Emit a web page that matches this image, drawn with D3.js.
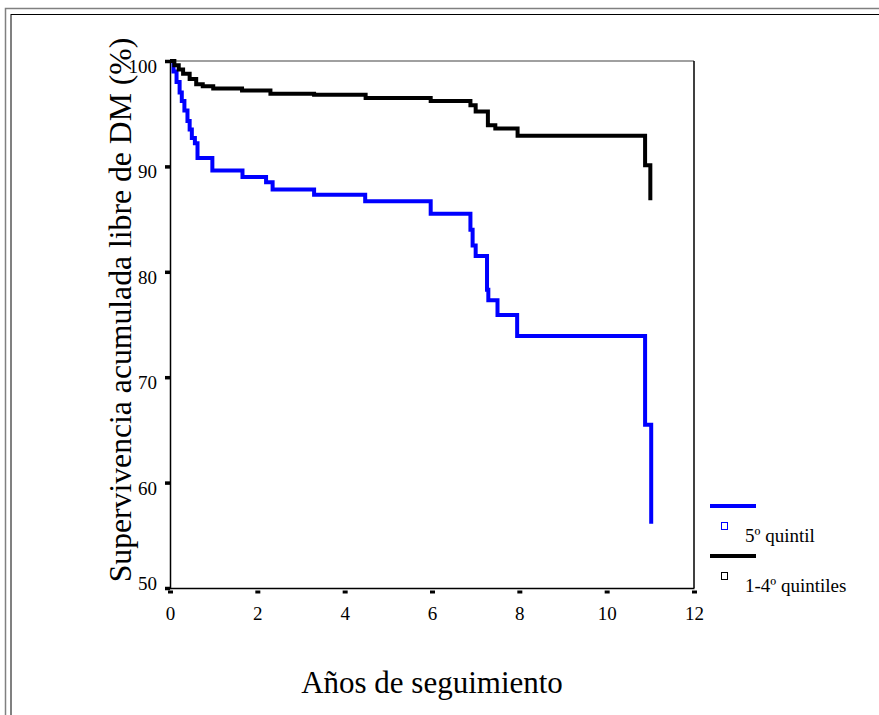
<!DOCTYPE html>
<html>
<head>
<meta charset="utf-8">
<script src="https://cdn.jsdelivr.net/npm/d3@7"></script>
<style>
  body { margin: 0; background: #fff; }
  text { font-family: "Liberation Serif", "Times New Roman", serif; fill: #000; }
</style>
</head>
<body>
<svg id="chart"></svg>
<script>
const width = 879;
const height = 715;
const plot = { left: 170, right: 694, top: 61, bottom: 588 };

// Kaplan-Meier estimates (years, % free of DM)
const quintil5Times = [0, 0.08, 0.15, 0.22, 0.27, 0.33, 0.4, 0.45, 0.5, 0.57, 0.63, 0.97, 1.66, 2.2, 2.35, 3.3, 4.47, 5.97, 6.88, 6.93, 7.0, 7.26, 7.29, 7.5, 7.95, 10.88, 11.02];
const quintil5Surv  = [100, 99.0, 98.0, 97.0, 96.2, 95.3, 94.3, 93.5, 92.7, 92.2, 90.8, 89.6, 89.0, 88.5, 87.8, 87.3, 86.7, 85.5, 84.0, 82.5, 81.5, 78.3, 77.3, 75.9, 73.9, 65.5, 56.1];
const quintil14Times = [0, 0.1, 0.2, 0.3, 0.45, 0.6, 0.75, 0.99, 1.65, 2.3, 3.3, 4.48, 5.97, 6.88, 7.0, 7.28, 7.45, 7.96, 10.88, 11.0];
const quintil14Surv  = [100, 99.6, 99.2, 98.8, 98.3, 97.8, 97.6, 97.4, 97.2, 96.9, 96.8, 96.5, 96.2, 95.8, 95.2, 93.9, 93.6, 92.9, 90.1, 86.8];

const xTicks = [0, 2, 4, 6, 8, 10, 12];
const yTicks = [50, 60, 70, 80, 90, 100];
const seriesNames = ["5º quintil", "1-4º quintiles"];
const seriesColors = ["#0000ff", "#000000"];

const svg = d3.select('svg#chart').attr('width', width).attr('height', height);

// double frame around the whole figure
svg.append('path').attr('d', 'M5.5,' + height + 'V8.5H' + width)
    .attr('fill', 'none').attr('stroke', '#808080').attr('stroke-width', 1.5);
svg.append('path').attr('d', 'M11,' + height + 'V14')
    .attr('fill', 'none').attr('stroke', '#808080').attr('stroke-width', 2);
svg.append('path').attr('d', 'M11,14.5H' + width)
    .attr('fill', 'none').attr('stroke', '#000').attr('stroke-width', 1.2);

const x = d3.scaleLinear().domain([0, 12]).range([plot.left, plot.right]);
const y = d3.scaleLinear().domain([50, 100]).range([plot.bottom, plot.top]);

// plot box: gray top, black right
svg.append('line').attr('x1', plot.left).attr('x2', plot.right).attr('y1', plot.top).attr('y2', plot.top)
    .attr('stroke', '#808080').attr('stroke-width', 1.5);
svg.append('line').attr('x1', plot.right).attr('x2', plot.right).attr('y1', plot.top).attr('y2', plot.bottom)
    .attr('stroke', '#000').attr('stroke-width', 1.5);

// y axis
const yAxis = svg.append('g').attr('transform', 'translate(' + plot.left + ',0)')
    .call(d3.axisLeft(y).tickValues(yTicks).tickSize(5).tickPadding(8).tickFormat(d3.format('d')));
yAxis.select('.domain').attr('stroke', '#000').attr('stroke-width', 1.5);
yAxis.selectAll('.tick line').attr('stroke', '#000').attr('stroke-width', 3.5);
yAxis.selectAll('.tick text').attr('font-size', 19)
    .attr('dy', d => d === 50 ? '0.06em' : '0.6em')
    .attr('font-family', '"Liberation Serif", serif');

// x axis
const xAxis = svg.append('g').attr('transform', 'translate(0,' + plot.bottom + ')')
    .call(d3.axisBottom(x).tickValues(xTicks).tickSize(0).tickPadding(19).tickFormat(d3.format('d')));
xAxis.select('.domain').attr('stroke', '#000').attr('stroke-width', 1.5);
xAxis.selectAll('.tick line').attr('stroke', '#000').attr('stroke-width', 3)
    .attr('x1', -2.5).attr('x2', 2.5).attr('y1', 4).attr('y2', 4);
xAxis.selectAll('.tick text').attr('font-size', 19).attr('font-family', '"Liberation Serif", serif');

// survival curves
const line = d3.line().curve(d3.curveStepAfter).x(d => x(d[0])).y(d => y(d[1]));
const series = [
    d3.zip(quintil5Times, quintil5Surv),
    d3.zip(quintil14Times, quintil14Surv)
];
series.forEach((pts, i) => {
    svg.append('path').datum(pts)
        .attr('d', line)
        .attr('fill', 'none')
        .attr('stroke', seriesColors[i])
        .attr('stroke-width', 4)
        .attr('stroke-linejoin', 'miter');
});

// axis titles
svg.append('text').attr('transform', 'translate(131,310) rotate(-90)')
    .attr('text-anchor', 'middle').attr('font-size', 31.7)
    .text('Supervivencia acumulada libre de DM (%)');
svg.append('text').attr('x', (plot.left + plot.right) / 2).attr('y', 693)
    .attr('text-anchor', 'middle').attr('font-size', 31)
    .text('Años de seguimiento');

// legend
const legend = svg.append('g').attr('transform', 'translate(710,506)');
seriesNames.forEach((name, i) => {
    const g = legend.append('g').attr('transform', 'translate(0,' + i * 50 + ')');
    g.append('line').attr('x1', 0).attr('x2', 46).attr('y1', 0).attr('y2', 0)
        .attr('stroke', seriesColors[i]).attr('stroke-width', 4);
    g.append('rect').attr('x', 11.5).attr('y', 16.5).attr('width', 6).attr('height', 7)
        .attr('fill', 'none').attr('stroke', seriesColors[i]).attr('stroke-width', 1);
    g.append('text').attr('x', 35).attr('y', 36).attr('font-size', 19).text(name);
});
</script>
</body>
</html>
